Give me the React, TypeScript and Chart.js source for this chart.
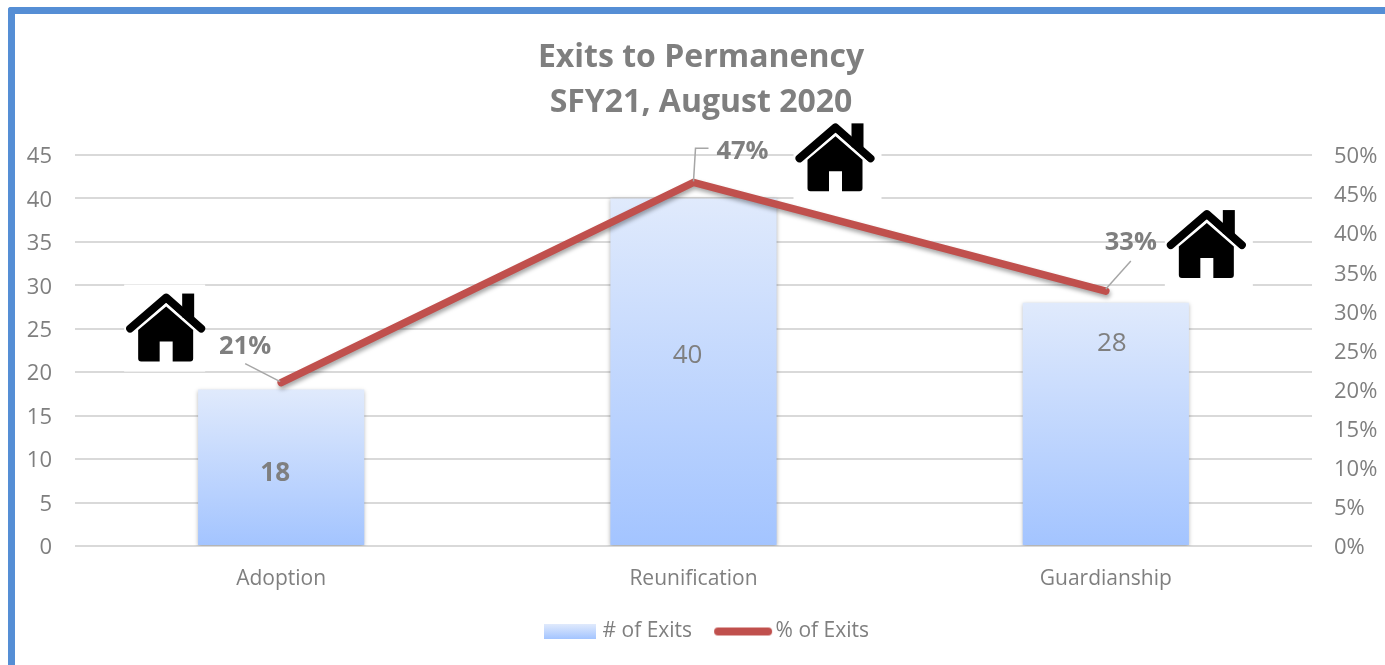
import React, { useEffect, useRef } from "react";
import { Chart, registerables } from "chart.js";

Chart.register(...registerables);

const categories = ["Adoption", "Reunification", "Guardianship"];
const exitCounts = [18, 40, 28];
const exitPercents = [20.9, 46.5, 32.6];
const percentLabels = ["21%", "47%", "33%"];
const titleLines = ["Exits to Permanency", "SFY21, August 2020"];
const seriesNames = ["# of Exits", "% of Exits"];

const FONT = "'Open Sans', sans-serif";
const GREY = "#7f7f7f";

const barLabelOffsets = [[-6, 6], [-6, -16], [6, -80]];
const barLabelWeights = ["bold", "normal", "normal"];
const percentLabelOffsets = [[-36, -36], [49, -31], [25, -48]];
const leaderOffsets = [
  [[-36, -19], [-1, -1]],
  [[15, -34], [2, -34], [0, -1]],
  [[25, -30], [0, -2]],
];
const houseOffsets = [[-155, -90], [102, -60], [61, -82]];
const houseMaskWidths = [81, 88, 88];

function gradientFor(ctx: CanvasRenderingContext2D, top: number, bottom: number) {
  const g = ctx.createLinearGradient(0, top, 0, bottom);
  g.addColorStop(0, "#e0eafc");
  g.addColorStop(1, "#a3c4ff");
  return g;
}

function drawHouse(ctx: CanvasRenderingContext2D, x: number, y: number, maskWidth: number) {
  ctx.save();
  ctx.translate(x, y);
  ctx.fillStyle = "#fff";
  ctx.fillRect(-2, -8, maskWidth, 87);
  ctx.fillStyle = "#000";
  ctx.strokeStyle = "#000";
  ctx.fillRect(56, 1, 12, 24);
  ctx.lineWidth = 8;
  ctx.lineCap = "round";
  ctx.lineJoin = "round";
  ctx.beginPath();
  ctx.moveTo(4, 36);
  ctx.lineTo(40, 5);
  ctx.lineTo(75, 36);
  ctx.stroke();
  ctx.strokeStyle = "#fff";
  ctx.lineWidth = 3;
  ctx.beginPath();
  ctx.moveTo(8, 41);
  ctx.lineTo(40, 12.5);
  ctx.lineTo(72, 41);
  ctx.stroke();
  ctx.beginPath();
  ctx.moveTo(40, 14);
  ctx.lineTo(67, 37.5);
  ctx.lineTo(67, 66);
  ctx.quadraticCurveTo(67, 69, 64, 69);
  ctx.lineTo(46.5, 69);
  ctx.lineTo(46.5, 49);
  ctx.lineTo(33.5, 49);
  ctx.lineTo(33.5, 69);
  ctx.lineTo(15, 69);
  ctx.quadraticCurveTo(12, 69, 12, 66);
  ctx.lineTo(12, 37.5);
  ctx.closePath();
  ctx.fill();
  ctx.restore();
}

const decorations = {
  id: "decorations",
  afterLayout(chart: any) {
    chart.legend.left += 15;
    chart.legend.top -= 13;
    chart.legend.bottom -= 13;
  },
  beforeDatasetDraw(chart: any, args: any) {
    const ctx = chart.ctx;
    ctx.save();
    if (args.meta.type === "bar") {
      ctx.shadowColor = "rgba(0,0,0,0.28)";
      ctx.shadowBlur = 4;
      ctx.shadowOffsetY = 1;
    } else {
      ctx.shadowColor = "rgba(0,0,0,0.35)";
      ctx.shadowBlur = 4;
      ctx.shadowOffsetX = 1;
      ctx.shadowOffsetY = 3;
    }
  },
  afterDatasetDraw(chart: any) {
    chart.ctx.restore();
  },
  beforeDatasetsDraw(chart: any) {
    const line = chart.getDatasetMeta(1).data;
    line.forEach((pt: any, i: number) => {
      drawHouse(chart.ctx, pt.x + houseOffsets[i][0], pt.y + houseOffsets[i][1], houseMaskWidths[i]);
    });
  },
  afterDatasetsDraw(chart: any) {
    const ctx = chart.ctx;
    const bars = chart.getDatasetMeta(0).data;
    const line = chart.getDatasetMeta(1).data;
    ctx.save();
    ctx.textAlign = "center";
    ctx.textBaseline = "middle";
    bars.forEach((bar: any, i: number) => {
      ctx.fillStyle = GREY;
      ctx.font = `${barLabelWeights[i]} 26px ${FONT}`;
      const cy = (bar.y + bar.base) / 2;
      ctx.fillText(String(exitCounts[i]), bar.x + barLabelOffsets[i][0], cy + barLabelOffsets[i][1]);
    });
    line.forEach((pt: any, i: number) => {
      ctx.strokeStyle = "#a6a6a6";
      ctx.lineWidth = 1.5;
      ctx.beginPath();
      leaderOffsets[i].forEach((o, k) => {
        if (k === 0) ctx.moveTo(pt.x + o[0], pt.y + o[1]);
        else ctx.lineTo(pt.x + o[0], pt.y + o[1]);
      });
      ctx.stroke();
      ctx.fillStyle = GREY;
      ctx.font = `bold 25.5px ${FONT}`;
      ctx.fillText(percentLabels[i], pt.x + percentLabelOffsets[i][0], pt.y + percentLabelOffsets[i][1]);
    });
    ctx.restore();
  },
};

export default function App() {
  const ref = useRef<HTMLCanvasElement>(null);

  useEffect(() => {
    const barSwatch = document.createElement("canvas");
    barSwatch.width = 52;
    barSwatch.height = 15;
    const bc = barSwatch.getContext("2d")!;
    const bg = bc.createLinearGradient(0, 0, 0, 15);
    bg.addColorStop(0, "#e0eafc");
    bg.addColorStop(1, "#a3c4ff");
    bc.fillStyle = bg;
    bc.fillRect(0, 0, 52, 15);

    const lineSwatch = document.createElement("canvas");
    lineSwatch.width = 60;
    lineSwatch.height = 10;
    const lc = lineSwatch.getContext("2d")!;
    lc.strokeStyle = "#c0504d";
    lc.lineWidth = 8;
    lc.lineCap = "round";
    lc.beginPath();
    lc.moveTo(5, 5);
    lc.lineTo(55, 5);
    lc.stroke();

    const chart = new Chart(ref.current!, {
      type: "bar",
      data: {
        labels: categories,
        datasets: [
          {
            type: "bar",
            label: seriesNames[0],
            data: exitCounts,
            yAxisID: "y",
            order: 2,
            barPercentage: 0.403,
            categoryPercentage: 1,
            backgroundColor: (c: any) => {
              const { chart: ch, dataIndex } = c;
              if (!ch.chartArea || dataIndex === undefined) return "#c0d4fb";
              const y = ch.scales.y;
              return gradientFor(ch.ctx, y.getPixelForValue(exitCounts[dataIndex]), y.getPixelForValue(0));
            },
          },
          {
            type: "line",
            label: seriesNames[1],
            data: exitPercents,
            yAxisID: "y1",
            order: 1,
            borderColor: "#c0504d",
            borderWidth: 7.5,
            borderCapStyle: "round",
            borderJoinStyle: "miter",
            pointRadius: 0,
            tension: 0,
          },
        ],
      },
      options: {
        animation: false,
        responsive: false,
        layout: { padding: { left: 17, right: 0, top: 0, bottom: 0 } },
        scales: {
          x: {
            grid: { display: false, drawTicks: false },
            border: { display: false },
            afterFit: (s: any) => { s.height = 59; },
            ticks: {
              color: GREY,
              font: { family: FONT, size: 21 },
              padding: 20,
              maxRotation: 0,
            },
          },
          y: {
            position: "left",
            min: 0,
            max: 45,
            afterFit: (s: any) => { s.width = 58; },
            grid: { color: "#d9d9d9", lineWidth: 2, drawTicks: false },
            border: { display: false },
            ticks: {
              stepSize: 5,
              color: GREY,
              font: { family: FONT, size: 22 },
              padding: 23,
              labelOffset: 2,
            },
          },
          y1: {
            position: "right",
            min: 0,
            max: 50,
            afterFit: (s: any) => { s.width = 73; },
            grid: { display: false, drawTicks: false },
            border: { display: false },
            ticks: {
              stepSize: 5,
              color: GREY,
              font: { family: FONT, size: 22 },
              padding: 22,
              labelOffset: 2,
              callback: (v: any) => `${v}%`,
            },
          },
        },
        plugins: {
          tooltip: { enabled: false },
          title: {
            display: true,
            text: titleLines,
            color: GREY,
            font: { family: FONT, size: 32, weight: "bold", lineHeight: 1.40625 },
            padding: { top: 35, bottom: 30 },
          },
          legend: {
            display: true,
            position: "bottom",
            labels: {
              color: GREY,
              font: { family: FONT, size: 21 },
              usePointStyle: true,
              pointStyleWidth: 44,
              padding: 29,
              generateLabels: () =>
                seriesNames.map((name, i) => ({
                  text: name,
                  fontColor: GREY,
                  datasetIndex: i,
                  pointStyle: i === 0 ? barSwatch : lineSwatch,
                  lineWidth: 0,
                })),
            },
          },
        },
      },
      plugins: [decorations],
    } as any);
    return () => chart.destroy();
  }, []);

  return (
    <div style={{ position: "fixed", left: 0, top: 0, width: 1385, height: 665, overflow: "hidden", background: "#fff" }}>
      <div
        style={{
          position: "absolute",
          left: 8,
          top: 7,
          width: 1500,
          height: 800,
          borderLeft: "7px solid #558ed5",
          borderTop: "7px solid #558ed5",
          borderTopLeftRadius: 3,
        }}
      />
      <canvas ref={ref} width={1385} height={665} style={{ position: "absolute", left: 0, top: 0 }} />
    </div>
  );
}
